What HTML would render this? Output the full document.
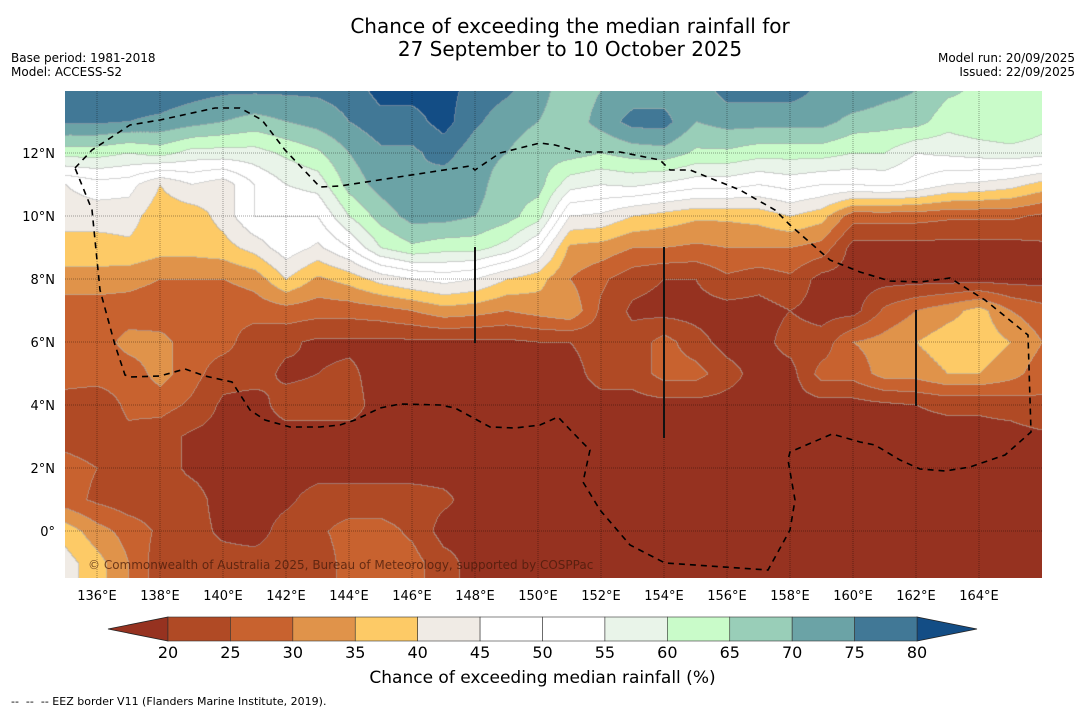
<!DOCTYPE html>
<html><head><meta charset="utf-8">
<style>
body{margin:0;background:#fff;width:1085px;height:713px;overflow:hidden;font-family:"DejaVu Sans","Liberation Sans",sans-serif;}
.t{position:absolute;white-space:nowrap;color:#000;}
</style></head>
<body>
<div style="position:relative;width:1085px;height:713px;">
<div class="t" style="left:0;width:1140px;text-align:center;top:15px;font-size:20px;line-height:23px;">Chance of exceeding the median rainfall for<br>27 September to 10 October 2025</div>
<div class="t" style="left:11px;top:51px;font-size:12px;line-height:14px;">Base period: 1981-2018<br>Model: ACCESS-S2</div>
<div class="t" style="right:10px;top:51px;font-size:12px;line-height:14px;text-align:right;">Model run: 20/09/2025<br>Issued: 22/09/2025</div>
<canvas id="map" width="977" height="487" style="position:absolute;left:65px;top:91px;"></canvas>
<svg id="ov" width="1085" height="713" style="position:absolute;left:0;top:0;"></svg>
<div class="t" style="left:88px;top:558px;font-size:12px;color:rgba(70,25,10,0.75);">© Commonwealth of Australia 2025, Bureau of Meteorology, supported by COSPPac</div>
<div class="t" style="left:0;width:1085px;text-align:center;top:668px;font-size:17px;">Chance of exceeding median rainfall (%)</div>
<div class="t" style="left:11px;top:695px;font-size:11px;">--&nbsp; --&nbsp; -- EEZ border V11 (Flanders Marine Institute, 2019).</div>
</div>
<script>
const lons = [135,136,137,138,139,140,141,142,143,144,145,146,147,148,149,150,151,152,153,154,155,156,157,158,159,160,161,162,163,164,165,166];
const lats = [14,13,12,11,10,9,8,7,6,5,4,3,2,1,0,-1,-2];
const r14=[80,78,78,78,77,76,76,76,76,77,82,82,82,78,76,72,67,70,72,72,72,77,77,77,74,75,72,70,66,64,64,62];
const r13=[76,76,75,74,72,70,68,70,72,75,78,78,82,76,72,70,67,72,77,77,70,72,72,72,72,68,67,67,62,64,65,62];
const r12=[62,62,60,62,58,58,58,61,64,70,74,74,77,72,70,67,67,65,67,68,64,64,62,62,62,60,60,55,56,57,58,57];
const r11=[45,48,47,40,45,42,50,55,57,67,72,75,72,72,67,67,57,55,56,54,52,52,50,52,50,50,51,49,45,44,42,38];
const r10=[42,42,42,37,37,42,50,50,50,60,67,72,72,70,67,62,45,44,40,38,36,36,37,40,37,27,27,27,26,26,26,24];
const r9=[38,38,39,37,37,38,42,48,44,50,60,64,62,62,58,50,34,33,30,30,29,30,30,30,28,18,18,18,18,18,18,19];
const r8=[33,33,32,30,30,30,32,40,34,37,42,45,47,45,40,37,30,26,22,20,20,24,22,24,18,18,18,18,18,18,18,18];
const r7=[27,27,27,26,26,26,27,28,27,27,28,30,33,32,30,32,34,24,19,18,18,18,18,20,18,18,26,30,33,37,30,27];
const r6=[27,27,32,32,27,27,22,21,19,19,19,19,19,19,19,20,20,22,22,27,22,18,18,22,22,30,32,35,38,38,35,30];
const r5=[27,27,27,32,27,22,22,19,20,21,18,18,18,18,18,18,18,22,22,27,27,22,18,18,27,27,32,32,35,35,32,27];
const r4=[23,22,26,27,24,19,18,22,22,22,18,18,18,18,18,18,18,18,18,18,18,18,18,18,18,18,19,20,21,21,22,24];
const r3=[23,22,24,22,19,18,18,18,18,18,18,18,18,18,18,18,18,18,18,18,18,18,18,18,18,18,18,18,18,18,18,19];
const r2=[27,25,22,22,19,18,18,18,18,18,18,18,18,18,18,18,18,18,18,18,18,18,18,18,18,18,18,18,18,18,18,18];
const r1=[27,24,22,22,22,18,18,19,22,22,22,22,21,18,18,18,18,18,18,18,18,18,18,18,18,18,18,18,18,18,18,18];
const r0=[38,32,28,24,22,19,18,22,24,27,27,24,18,18,18,18,18,18,18,18,18,18,18,18,18,18,18,18,18,18,18,18];
const rm1=[42,37,30,22,22,22,22,22,22,27,27,27,22,18,18,18,18,18,18,18,18,18,18,18,18,18,18,18,18,18,18,18];
const rm2=[42,37,30,22,22,22,22,22,22,27,27,27,22,18,18,18,18,18,18,18,18,18,18,18,18,18,18,18,18,18,18,18];
const grid=[r14,r13,r12,r11,r10,r9,r8,r7,r6,r5,r4,r3,r2,r1,r0,rm1,rm2];
const levels=[20,25,30,35,40,45,50,55,60,65,70,75,80];
const bandColors=['#963220','#b04a25','#c8622f','#e0934a','#fdca66','#f0ebe5','#ffffff','#ffffff','#e9f4e9','#c9fbc9','#99ceb8','#6ba3a6','#417896','#134d85'];
const lonTicks=[136,138,140,142,144,146,148,150,152,154,156,158,160,162,164];
const latTicks=[12,10,8,6,4,2,0];

const xOf=lon=>97+(lon-136)*31.5;
const yOf=lat=>531-lat*31.5;

function val(lon,lat){
  let c=(lon-lons[0]), r=(lats[0]-lat);
  c=Math.max(0,Math.min(lons.length-1.001,c)); r=Math.max(0,Math.min(lats.length-1.001,r));
  const c0=Math.floor(c), r0=Math.floor(r), fc=c-c0, fr=r-r0;
  const a=grid[r0][c0],b=grid[r0][c0+1],d=grid[r0+1][c0],e=grid[r0+1][c0+1];
  return a*(1-fc)*(1-fr)+b*fc*(1-fr)+d*(1-fc)*fr+e*fc*fr;
}
function band(v){let i=0;while(i<levels.length&&v>=levels[i])i++;return i;}
function hex(h){return [parseInt(h.slice(1,3),16),parseInt(h.slice(3,5),16),parseInt(h.slice(5,7),16)];}
const rgb=bandColors.map(hex);
const cv=document.getElementById('map'),ctx=cv.getContext('2d');
const W=cv.width,H=cv.height,img=ctx.createImageData(W,H);
const B=new Int8Array(W*H);
for(let y=0;y<H;y++)for(let x=0;x<W;x++){
  const X=65+x,Y=91+y;
  B[y*W+x]=band(val(136+(X-97)/31.5,(531-Y)/31.5));
}
for(let y=0;y<H;y++)for(let x=0;x<W;x++){
  const k=y*W+x,b=B[k];let c=rgb[b];
  const edge=(x<W-1&&B[k+1]!==b)||(y<H-1&&B[k+W]!==b);
  let r=c[0],g=c[1],bl=c[2];
  if(edge){r=r*0.45+175*0.55;g=g*0.45+175*0.55;bl=bl*0.45+175*0.55;}
  img.data[k*4]=r;img.data[k*4+1]=g;img.data[k*4+2]=bl;img.data[k*4+3]=255;
}
ctx.putImageData(img,0,0);

const NS='http://www.w3.org/2000/svg',ov=document.getElementById('ov');
function mk(tag,attrs,parent){const e=document.createElementNS(NS,tag);for(const k in attrs)e.setAttribute(k,attrs[k]);(parent||ov).appendChild(e);return e;}
lonTicks.forEach(lo=>{
  const l=mk('line',{x1:xOf(lo),x2:xOf(lo),y1:91,y2:578,stroke:'rgba(0,0,0,0.35)','stroke-width':1,'stroke-dasharray':'1,1'});
  
  
  const t=mk('text',{x:xOf(lo),y:600,'text-anchor':'middle','font-size':13,'font-family':'DejaVu Sans, Liberation Sans, sans-serif'});
  t.textContent=lo+'°E';
  
  
});
latTicks.forEach(la=>{
  const l=mk('line',{x1:65,x2:1042,y1:yOf(la),y2:yOf(la),stroke:'rgba(0,0,0,0.35)','stroke-width':1,'stroke-dasharray':'1,1'});
  
  
  const t=mk('text',{x:55,y:yOf(la)+5,'text-anchor':'end','font-size':13,'font-family':'DejaVu Sans, Liberation Sans, sans-serif'});
  t.textContent=la===0?'0°':la+'°N';
  
  
});
[[475,247,343],[664,247,438],[916,310,406]].forEach(s=>{
  const l=mk('line',{x1:s[0],x2:s[0],y1:s[1],y2:s[2],stroke:'#111','stroke-width':2});
  
  
});
const eez='75,168 92,150 130,125 160,120 215,108 240,108 262,120 285,150 320,187 340,186 470,166 475,170 500,153 540,143 555,145 580,152 620,152 660,160 670,170 690,170 740,190 775,210 790,225 830,260 860,272 890,281 920,282 950,278 985,300 1028,335 1031,432 1005,455 970,467 945,471 920,469 900,460 875,445 860,442 832,434 790,452 788,460 795,500 790,530 768,570 665,563 630,545 600,510 583,482 590,450 580,440 558,417 540,425 515,428 490,427 455,408 440,405 400,404 380,408 355,420 340,425 320,427 290,427 265,420 250,410 232,382 205,376 185,369 160,376 130,377 125,375 115,345 100,290 92,210 88,200 75,168';
const p=mk('polygon',{points:eez,fill:'none',stroke:'#000','stroke-width':1.6,'stroke-dasharray':'6,5'});


const cbX0=168,cbX1=917,cbY=617,cbH=24,segW=(cbX1-cbX0)/12;
const lt=mk('polygon',{points:`108,${cbY+cbH/2} ${cbX0},${cbY} ${cbX0},${cbY+cbH}`,fill:bandColors[0],stroke:'#222','stroke-width':0.8});


const rt=mk('polygon',{points:`977,${cbY+cbH/2} ${cbX1},${cbY} ${cbX1},${cbY+cbH}`,fill:bandColors[13],stroke:'#222','stroke-width':0.8});


for(let i=0;i<12;i++){
  const r=mk('rect',{x:cbX0+i*segW,y:cbY,width:segW,height:cbH,fill:bandColors[i+1],stroke:'#333','stroke-width':0.6});
  
  
}
levels.forEach((lv,i)=>{
  const t=mk('text',{x:cbX0+i*segW,y:658,'text-anchor':'middle','font-size':16,'font-family':'DejaVu Sans, Liberation Sans, sans-serif'});
  t.textContent=lv;
  
  
});
</script>
</body></html>
